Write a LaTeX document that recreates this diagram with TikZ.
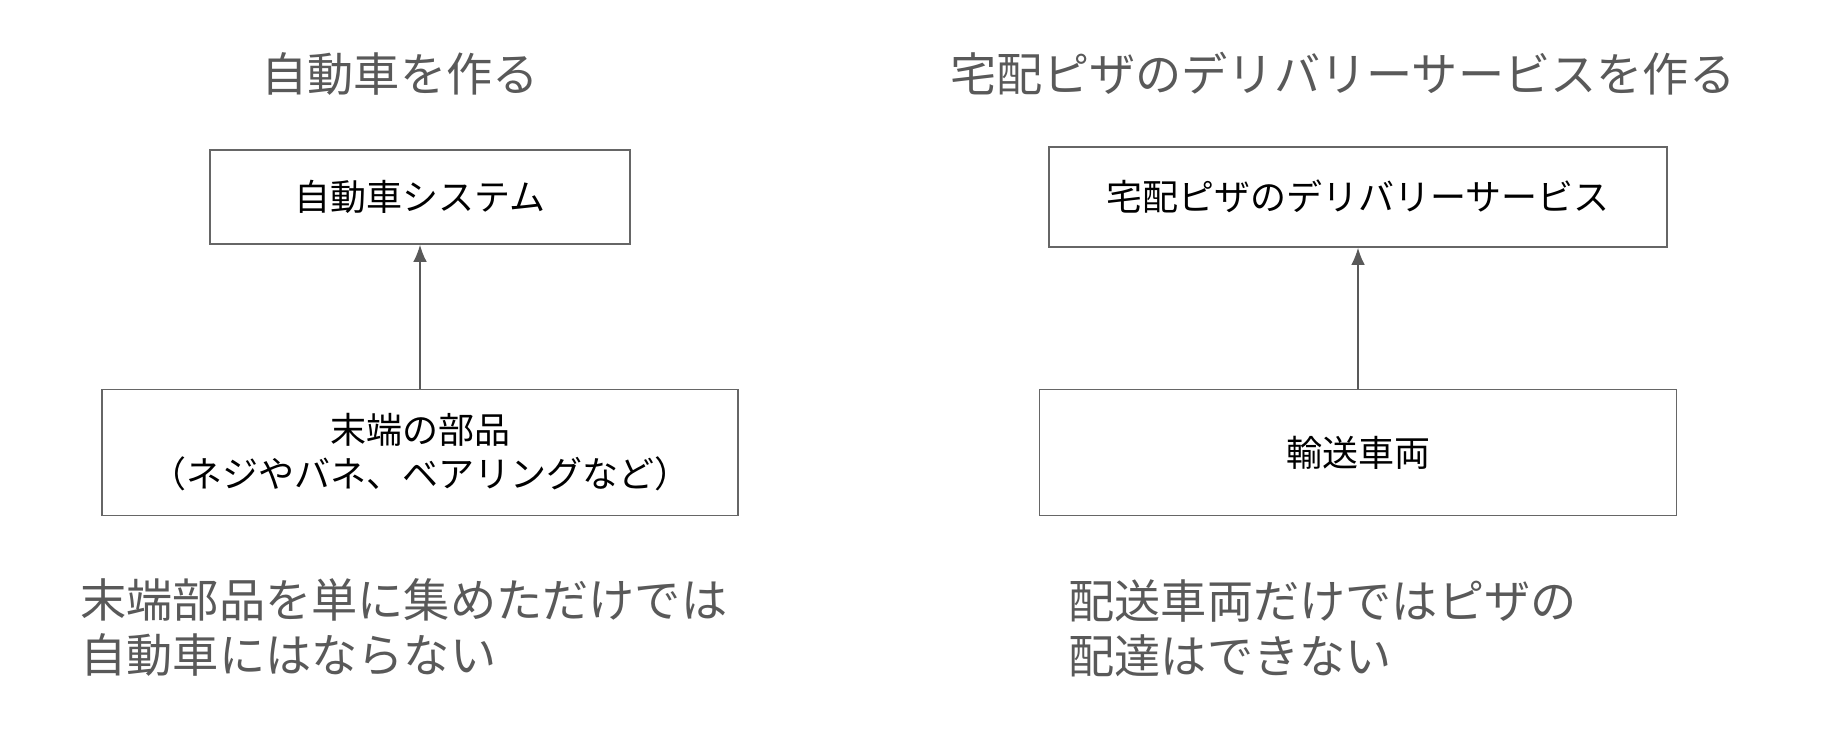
\documentclass[tikz,border=0pt]{standalone}
\usepackage{fontspec}
\setmainfont{Noto Sans CJK JP}
\usetikzlibrary{arrows.meta,positioning}
\definecolor{titlegray}{HTML}{595959}
\definecolor{boxgray}{HTML}{666666}
\tikzset{
  heading/.style={text=titlegray,font=\fontsize{23.1}{27.5}\selectfont},
  note/.style={heading,align=left,anchor=west,inner sep=0pt},
  block/.style={draw=boxgray,line width=0.8pt,align=center,inner sep=0pt,
    font=\fontsize{18}{22}\selectfont},
  uplink/.style={draw=titlegray,line width=0.8pt,-{Latex[length=8.5pt,width=6.8pt]}}
}
\begin{document}
\begin{tikzpicture}[x=0.5pt,y=-0.5pt]
\useasboundingbox (0,0) rectangle (1847,749);
% car
\node[heading] (cartitle) at (400,74) {自動車を作る};
\node[block,minimum width=210pt,minimum height=47pt] (carsys) at (420,197) {自動車システム};
\node[block,minimum width=318pt,minimum height=63pt,below=72pt of carsys] (parts)
  {末端の部品\\（ネジやバネ、ベアリングなど）};
\draw[uplink] (parts) -- (carsys);
\node[note] (carnote) at (80,628) {末端部品を単に集めただけでは\\自動車にはならない};
% pizza delivery
\node[heading] (pizzatitle) at (1343,74) {宅配ピザのデリバリーサービスを作る};
\node[block,minimum width=309pt,minimum height=50pt] (service) at (1358,197) {宅配ピザのデリバリーサービス};
\node[block,minimum width=318.5pt,minimum height=63pt,below=70.5pt of service] (vehicle) {輸送車両};
\draw[uplink] (vehicle) -- (service);
\node[note] (pizzanote) at (1068,628) {配送車両だけではピザの\\配達はできない};
\end{tikzpicture}
\end{document}
